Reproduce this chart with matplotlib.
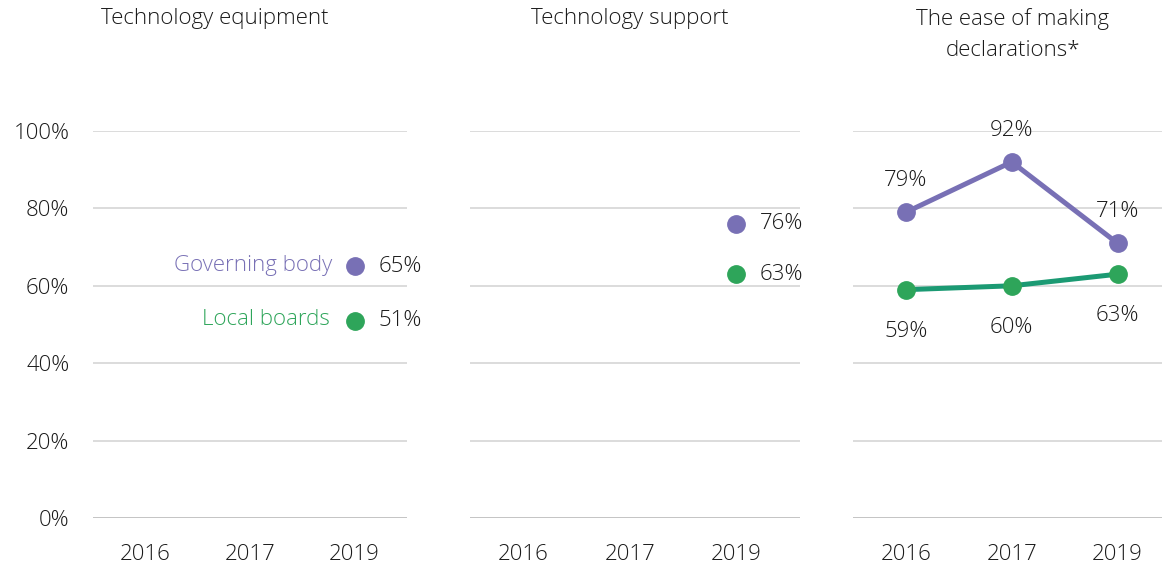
import numpy as np
import matplotlib.pyplot as plt

plt.rcParams['font.family'] = ['Open Sans', 'DejaVu Sans']
plt.rcParams['font.weight'] = 'light'

years = ["2016", "2017", "2019"]
titles = ["Technology equipment", "Technology support", "The ease of making\ndeclarations*"]
title_centers = [215, 630, 1013]

# panel values (None = not asked that year)
gov = [
    [None, None, 65],
    [None, None, 76],
    [79, 92, 71],
]
local = [
    [None, None, 51],
    [None, None, 63],
    [59, 60, 63],
]
yticks = [0, 20, 40, 60, 80, 100]
ytick_labels = ["0%", "20%", "40%", "60%", "80%", "100%"]

purple = "#7870B5"
green_line = "#1B9A73"
green_dot = "#2EA55A"
text_col = "#1A1A1A"
fs = 16

W, H = 1162, 565
fig = plt.figure(figsize=(W/100, H/100), dpi=100)

# pixel boxes: (left, right, xlim_right)
boxes = [(93, 407, 2.5), (470, 800, 2.6), (853, 1162, 2.42)]
y_bot, y_top = 518, 131

for i, (l, r, xr) in enumerate(boxes):
    ax = fig.add_axes([l/W, (H - y_bot)/H, (r - l)/W, (y_bot - y_top)/H])
    ax.set_xlim(-0.5, xr)
    ax.set_ylim(0, 100)
    for s in ax.spines.values():
        s.set_visible(False)
    for yv in yticks:
        ax.axhline(yv, color="#BFBFBF" if yv == 0 else "#D9D9D9", lw=1.3, zorder=0)
    ax.set_xticks(range(3))
    ax.set_xticklabels(years, fontsize=fs, color=text_col)
    ax.tick_params(length=0, pad=19)
    if i == 0:
        ax.set_yticks(yticks)
        ax.set_yticklabels(ytick_labels, fontsize=fs, color=text_col)
        ax.tick_params(axis="y", pad=17)
    else:
        ax.set_yticks([])

    xs = np.arange(3)
    g = [np.nan if v is None else v for v in gov[i]]
    lb = [np.nan if v is None else v for v in local[i]]
    ax.plot(xs, g, color=purple, lw=3.6, zorder=2, clip_on=False)
    ax.plot(xs, lb, color=green_line, lw=3.6, zorder=2, clip_on=False)
    ax.plot(xs, g, "o", color=purple, ms=12.5, zorder=3, clip_on=False)
    ax.plot(xs, lb, "o", color=green_dot, ms=12.5, zorder=3, clip_on=False)

    fig.text(title_centers[i]/W, 1 - 8/H, titles[i], fontsize=fs, color=text_col,
             ha="center", va="top", linespacing=1.6)

    if i < 2:
        ax.annotate(f"{gov[i][2]}%", (2, gov[i][2]), xytext=(17, 0), textcoords="offset points",
                    va="center", ha="left", fontsize=fs, color=text_col)
        ax.annotate(f"{local[i][2]}%", (2, local[i][2]), xytext=(17, 0), textcoords="offset points",
                    va="center", ha="left", fontsize=fs, color=text_col)
    else:
        for j in range(3):
            ax.annotate(f"{gov[i][j]}%", (j, gov[i][j]), xytext=(0, 23), textcoords="offset points",
                        va="center", ha="center", fontsize=fs, color=text_col)
            ax.annotate(f"{local[i][j]}%", (j, local[i][j]), xytext=(0, -30), textcoords="offset points",
                        va="center", ha="center", fontsize=fs, color=text_col)

    if i == 0:
        ax.annotate("Governing body", (2, gov[0][2]), xytext=(-16, 1), textcoords="offset points",
                    va="center", ha="right", fontsize=fs, color=purple)
        ax.annotate("Local boards", (2, local[0][2]), xytext=(-18, 1), textcoords="offset points",
                    va="center", ha="right", fontsize=fs, color=green_dot)

fig.savefig("out.png", dpi=100)
